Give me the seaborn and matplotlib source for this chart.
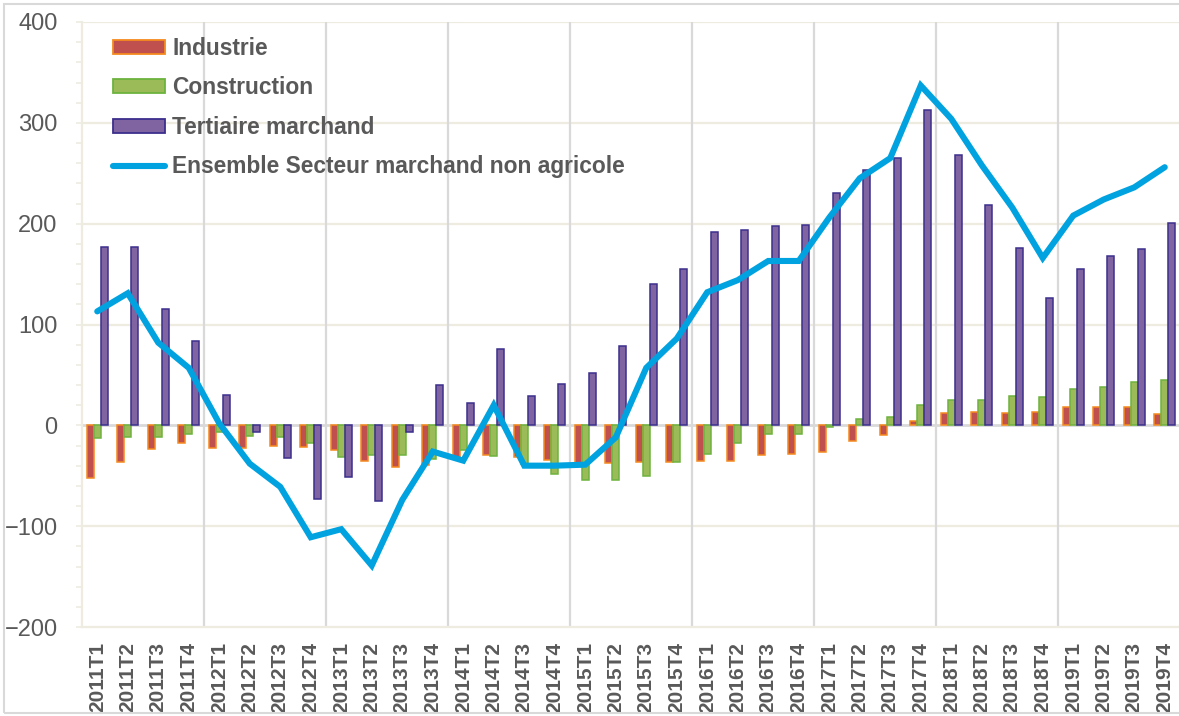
import numpy as np
import pandas as pd
import matplotlib
matplotlib.use("Agg")
import matplotlib.pyplot as plt
import matplotlib.patches as mpatches
from matplotlib.lines import Line2D
from matplotlib.ticker import MultipleLocator
import seaborn as sns

years = range(2011, 2020)
trimestres = [f"{y}T{q}" for y in years for q in range(1, 5)]

industrie = [-52, -36, -23, -18, -22, -22, -20, -21, -24, -35, -41, -39,
             -32, -29, -31, -34, -38, -37, -36, -36, -35, -35, -29, -28,
             -26, -16, -10, 4, 12, 13, 12, 13, 18, 18, 18, 11]
construction = [-13, -12, -12, -9, -7, -11, -12, -18, -31, -29, -29, -33,
                -24, -30, -38, -48, -54, -54, -50, -36, -28, -18, -9, -9,
                -2, 6, 8, 20, 25, 25, 29, 28, 36, 38, 43, 45]
tertiaire = [177, 177, 115, 84, 30, -7, -32, -73, -51, -75, -7, 40,
             22, 76, 29, 41, 52, 79, 140, 155, 192, 194, 198, 199,
             230, 253, 265, 313, 268, 219, 176, 126, 155, 168, 175, 201]
ensemble = [113, 131, 82, 57, 2, -38, -61, -111, -103, -139, -74, -26,
            -35, 20, -40, -40, -39, -12, 57, 86, 132, 144, 163, 163,
            206, 245, 265, 337, 304, 258, 216, 166, 208, 224, 236, 256]

secteurs = ["Industrie", "Construction", "Tertiaire marchand"]
fills = ["#C0504D", "#9BBB59", "#8064A2"]
edges = ["#F58A1F", "#6DB33F", "#3C2F8C"]
line_color = "#00A2E0"
label_ensemble = "Ensemble Secteur marchand non agricole"

df = pd.DataFrame({
    "trimestre": trimestres * 3,
    "secteur": np.repeat(secteurs, len(trimestres)),
    "valeur": industrie + construction + tertiaire,
})

sns.set_style("white")
plt.rcParams["font.family"] = ["Liberation Sans", "DejaVu Sans"]

W, H = 1179, 716
fig = plt.figure(figsize=(W / 100, H / 100), dpi=100)
ax = fig.add_axes([82 / W, 1 - 627 / H, (1180 - 82) / W, 605 / H])

sns.barplot(data=df, x="trimestre", y="valeur", hue="secteur",
            order=trimestres, hue_order=secteurs, palette=fills,
            saturation=1, width=0.7, legend=False, ax=ax, zorder=3)
for cont, ec in zip(ax.containers, edges):
    for bar in cont:
        bar.set_edgecolor(ec)
        bar.set_linewidth(1.1)

n = len(trimestres)
sns.lineplot(x=np.arange(n), y=ensemble, color=line_color, linewidth=4.4,
             ax=ax, zorder=5, solid_capstyle="round", solid_joinstyle="miter")

grid_beige = "#EEECE1"
grid_grey = "#D9D9D9"
ax.set_xlim(-0.5, n - 0.5)
ax.set_ylim(-200, 400)
ax.yaxis.set_major_locator(MultipleLocator(100))
ax.yaxis.set_minor_locator(MultipleLocator(20))
for v in range(-100, 401, 100):
    if v != 0:
        ax.axhline(v, color=grid_beige, lw=1.6, zorder=1)
ax.axhline(0, color=grid_grey, lw=2, zorder=2)
for i in range(4, n, 4):
    ax.axvline(i - 0.5, color=grid_grey, lw=1.6, zorder=1)

for side in ["top", "right"]:
    ax.spines[side].set_visible(False)
ax.spines["left"].set_color(grid_beige)
ax.spines["left"].set_linewidth(1.6)
ax.spines["bottom"].set_color(grid_beige)
ax.spines["bottom"].set_linewidth(1.6)

ax.tick_params(axis="y", which="major", direction="out", length=4.5, width=1.2,
               color=grid_beige, labelsize=17, labelcolor="#595959", pad=13, left=True)
ax.tick_params(axis="y", which="minor", direction="out", length=4.5, width=1.2,
               color=grid_beige, left=True)
ax.tick_params(axis="x", length=0, pad=11)
ax.set_xticks(np.arange(n))
ax.set_xticklabels(trimestres, rotation=90, fontsize=15, fontweight="bold",
                   color="#595959")
ax.set_xlabel("")
ax.set_ylabel("")

handles = [mpatches.Patch(facecolor=f, edgecolor=e, linewidth=1.3)
           for f, e in zip(fills, edges)]
handles.append(Line2D([], [], color=line_color, lw=4.4, solid_capstyle="round"))
ax.legend(handles, secteurs + [label_ensemble], loc="upper left",
          bbox_to_anchor=(113 / W, 1 - 37 / H), bbox_transform=fig.transFigure,
          frameon=False, borderpad=0, borderaxespad=0, handlelength=2.3,
          handleheight=0.55, handletextpad=0.3, labelspacing=0.72,
          prop={"size": 16.4, "weight": "bold"}, labelcolor="#595959")

fig.add_artist(mpatches.Rectangle((4 / W, 3 / H), 1.0, 709 / H,
                                  transform=fig.transFigure, fill=False,
                                  edgecolor=grid_grey, lw=1.5))

fig.savefig("out.png", dpi=100)
